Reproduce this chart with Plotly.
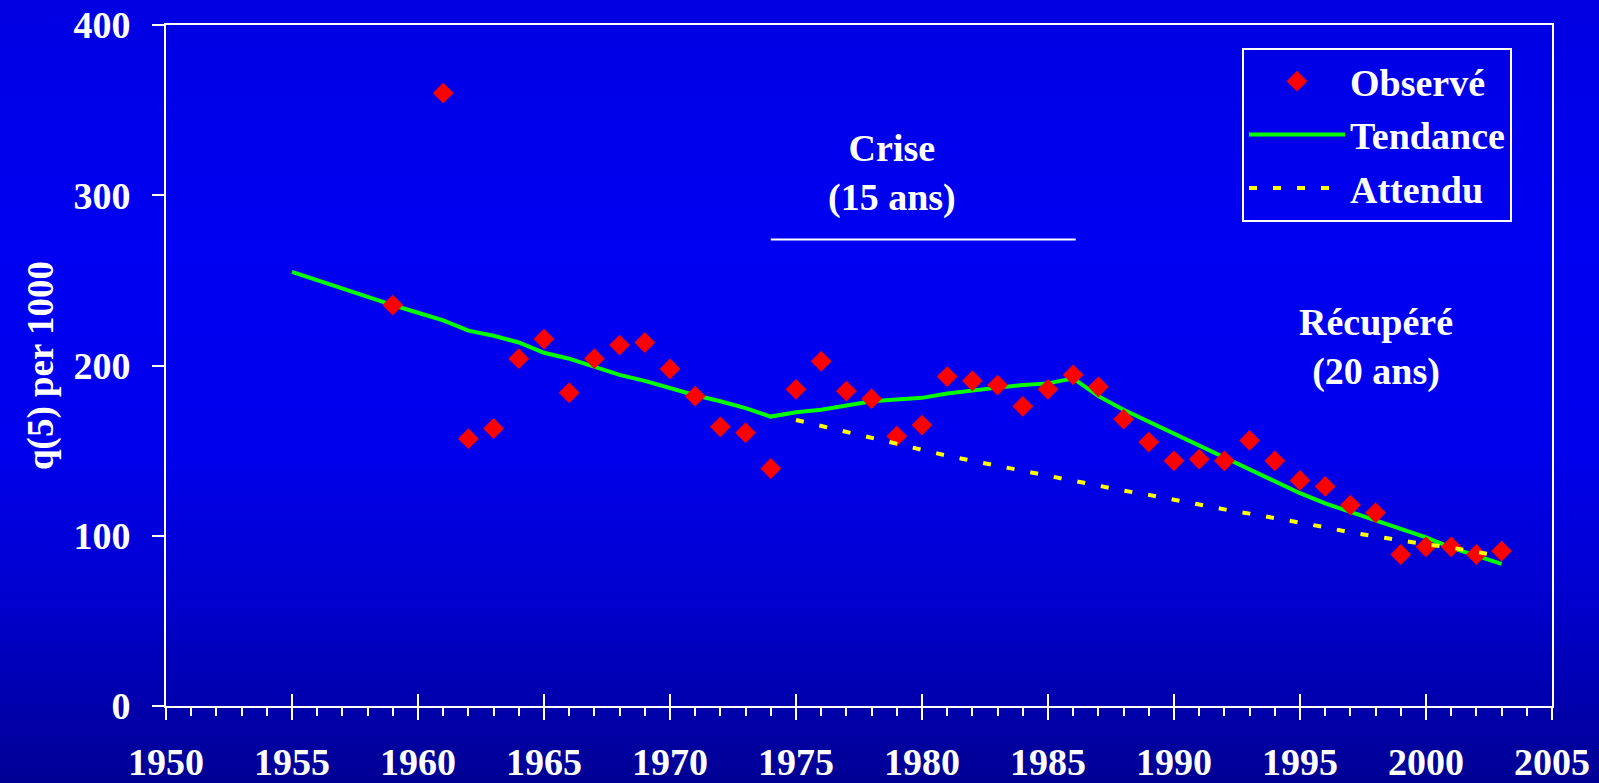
import plotly.graph_objects as go

# ---------------- data ----------------
obs_years = [1959, 1961, 1962, 1963, 1964, 1965, 1966, 1967, 1968, 1969,
             1970, 1971, 1972, 1973, 1974, 1975, 1976, 1977, 1978, 1979,
             1980, 1981, 1982, 1983, 1984, 1985, 1986, 1987, 1988, 1989,
             1990, 1991, 1992, 1993, 1994, 1995, 1996, 1997, 1998, 1999,
             2000, 2001, 2002, 2003]
obs_values = [235.5, 360, 157, 163, 204, 215.5, 184, 204, 212, 213.5,
              198, 182, 164, 160.5, 139.5, 186, 202.5, 185, 180.5, 158.5,
              165, 193.5, 191, 188.5, 176, 186, 194.5, 187.5, 168.5, 155,
              144, 145, 144, 156, 144, 132.5, 129, 118, 113.5, 89,
              93.5, 93.5, 89, 91]

trend_years = list(range(1955, 2004))
trend_values = [255, 250, 245.5, 240.5, 235.5, 231, 226.5, 220.5, 217.5, 213.5,
                207.5, 204, 199, 194.5, 191, 186.5, 182.5, 179, 175, 170,
                172.5, 174, 176.5, 179, 180, 181, 183.5, 185.5, 187, 188.5,
                189.5, 192.5, 182, 174, 167, 160, 153, 146, 138.5, 131.5,
                125, 119, 114, 109, 104.5, 99, 93, 88, 83.5]

expected_years = list(range(1975, 2004))
expected_values = [168, 164.5, 160.5, 157, 153.5, 150.5, 147, 144, 141, 138,
                   135, 132, 129.5, 126.5, 124, 121, 118.5, 115.5, 113, 110.5,
                   107.5, 105, 102, 99.5, 97, 95, 93, 90.5, 88]

series_names = ["Observé", "Tendance", "Attendu"]
x_tick_values = list(range(1950, 2006, 5))
y_tick_values = [0, 100, 200, 300, 400]
y_title = "q(5) per 1000"
crisis_label = "Crise<br>(15 ans)"
crisis_span = [1974, 1986.1]
recovery_label = "Récupéré<br>(20 ans)"

# ---------------- style ----------------
FONT = "Liberation Serif, Times New Roman, serif"
W, H = 1599, 783
ML, MR, MT, MB = 166, 47, 25, 77
plot_w = W - ML - MR
plot_h = H - MT - MB

fig = go.Figure()

fig.add_trace(go.Scatter(
    x=trend_years, y=trend_values, mode="lines", name=series_names[1],
    line=dict(color="rgb(0,255,0)", width=4), legendrank=2, legendgroup="b"))
fig.add_trace(go.Scatter(
    x=obs_years, y=obs_values, mode="markers", name=series_names[0],
    marker=dict(symbol="diamond", size=16, color="rgb(255,0,0)",
                line=dict(width=0)), legendrank=1, legendgroup="a"))
fig.add_trace(go.Scatter(
    x=expected_years, y=expected_values, mode="lines", name=series_names[2],
    line=dict(color="rgb(255,255,0)", width=4, dash="8px,16px"),
    legendrank=3, legendgroup="c"))

# background gradient bands (paper coordinates, whole figure)
stops = [(0, 226), (250, 242), (450, 236), (600, 205), (783, 148)]


def blue_at(py):
    for (a, ca), (b, cb) in zip(stops[:-1], stops[1:]):
        if a <= py <= b:
            t = (py - a) / (b - a)
            return ca + (cb - ca) * t
    return stops[-1][1]


step = 6
for py in range(0, H, step):
    y0 = (H - MB - (py + step)) / plot_h
    y1 = (H - MB - py) / plot_h
    b = int(round(blue_at(py + step / 2)))
    fig.add_shape(type="rect", xref="paper", yref="paper",
                  x0=-ML / plot_w - 0.01, x1=1 + MR / plot_w + 0.01,
                  y0=y0 - 0.001, y1=y1 + 0.001, line=dict(width=0),
                  fillcolor=f"rgb(0,0,{b})", layer="below")

# crisis line
fig.add_shape(type="line", xref="x", yref="y", x0=crisis_span[0], x1=crisis_span[1],
              y0=274, y1=274, line=dict(color="white", width=2))

fig.add_annotation(x=1978.8, y=313, xref="x", yref="y", text=crisis_label,
                   showarrow=False, font=dict(family=FONT, size=38, color="white", weight="bold"))
fig.add_annotation(x=1998.0, y=211, xref="x", yref="y", text=recovery_label,
                   showarrow=False, font=dict(family=FONT, size=38, color="white", weight="bold"))

axis_font = dict(family=FONT, size=38, color="white", weight="bold")

fig.update_layout(
    width=W, height=H,
    margin=dict(l=ML, r=MR, t=MT, b=MB, autoexpand=False),
    paper_bgcolor="rgb(0,0,200)",
    plot_bgcolor="rgba(0,0,0,0)",
    font=dict(family=FONT, color="white"),
    showlegend=True,
    legend=dict(x=(1242 - ML) / plot_w, y=(H - MB - 48) / plot_h, xanchor="left", yanchor="top",
                bgcolor="rgba(0,0,0,0)", bordercolor="white", borderwidth=2,
                font=dict(family=FONT, size=38, color="white", weight="bold"),
                itemwidth=96, tracegroupgap=1, traceorder="grouped"),
    xaxis=dict(range=[1950, 2005], tickvals=x_tick_values, showgrid=False, zeroline=False,
               showline=True, linecolor="white", linewidth=2, mirror=True,
               ticks="outside", ticklen=12, tickwidth=2, tickcolor="white",
               tickfont=axis_font, ticklabelstandoff=9,
               minor=dict(dtick=1, tick0=1950, ticks="outside", ticklen=8,
                          tickwidth=2, tickcolor="white", showgrid=False)),
    xaxis2=dict(range=[1950, 2005], overlaying="x", side="bottom", tickvals=x_tick_values,
                showticklabels=False, showgrid=False, zeroline=False, showline=False,
                ticks="inside", ticklen=12, tickwidth=2, tickcolor="white"),
    yaxis=dict(range=[0, 400], tickvals=y_tick_values, showgrid=False, zeroline=False,
               showline=True, linecolor="white", linewidth=2, mirror=True,
               ticks="outside", ticklen=12, tickwidth=2, tickcolor="white",
               tickfont=axis_font, ticklabelstandoff=14,
               title=dict(text=y_title, font=dict(family=FONT, size=37, color="white", weight="bold"),
                          standoff=8)),
)

# invisible trace to activate xaxis2 ticks
fig.add_trace(go.Scatter(x=[1950], y=[0], xaxis="x2", mode="markers",
                         marker=dict(opacity=0), showlegend=False, hoverinfo="skip"))

fig.write_html("out.html", config={"displayModeBar": False},
               post_script="document.body.style.margin='0';document.body.style.overflow='hidden';")
